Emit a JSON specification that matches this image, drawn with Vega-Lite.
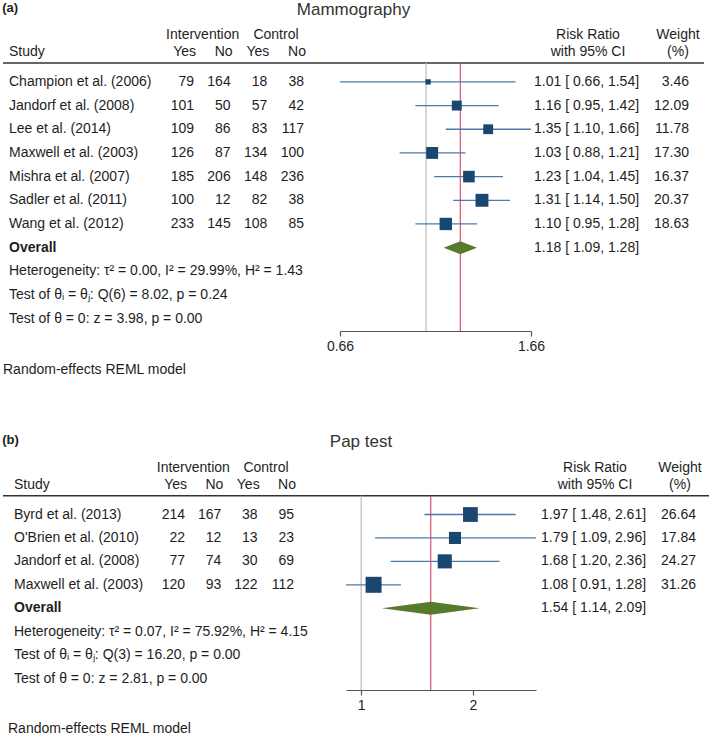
{
  "$schema": "https://vega.github.io/schema/vega-lite/v6.json",
  "padding": {"left": 2, "top": 1, "right": 0, "bottom": 0},
  "background": "white",
  "bounds": "flush",
  "spacing": 432,
  "config": {
    "view": {"stroke": null},
    "font": "Liberation Sans",
    "text": {"font": "Liberation Sans", "fontSize": 14, "color": "#1e1e1e"},
    "axis": {"grid": false, "title": null, "domainColor": "#555", "tickColor": "#555", "tickSize": 5, "domainWidth": 1.2, "tickWidth": 1.2, "labelFontSize": 14, "labelColor": "#1e1e1e", "labelFont": "Liberation Sans", "labelFlush": false, "labelPadding": 3}
  },
  "datasets": {
    "a_studies": [
      {"row": 1, "study": "Champion et al. (2006)", "int_yes": 79, "int_no": 164, "ctl_yes": 18, "ctl_no": 38, "rr": 1.01, "lo": 0.66, "hi": 1.54, "w": 3.46, "ci": "1.01 [ 0.66, 1.54]"},
      {"row": 2, "study": "Jandorf et al. (2008)", "int_yes": 101, "int_no": 50, "ctl_yes": 57, "ctl_no": 42, "rr": 1.16, "lo": 0.95, "hi": 1.42, "w": 12.09, "ci": "1.16 [ 0.95, 1.42]"},
      {"row": 3, "study": "Lee et al. (2014)", "int_yes": 109, "int_no": 86, "ctl_yes": 83, "ctl_no": 117, "rr": 1.35, "lo": 1.10, "hi": 1.66, "w": 11.78, "ci": "1.35 [ 1.10, 1.66]"},
      {"row": 4, "study": "Maxwell et al. (2003)", "int_yes": 126, "int_no": 87, "ctl_yes": 134, "ctl_no": 100, "rr": 1.03, "lo": 0.88, "hi": 1.21, "w": 17.30, "ci": "1.03 [ 0.88, 1.21]"},
      {"row": 5, "study": "Mishra et al. (2007)", "int_yes": 185, "int_no": 206, "ctl_yes": 148, "ctl_no": 236, "rr": 1.23, "lo": 1.04, "hi": 1.45, "w": 16.37, "ci": "1.23 [ 1.04, 1.45]"},
      {"row": 6, "study": "Sadler et al. (2011)", "int_yes": 100, "int_no": 12, "ctl_yes": 82, "ctl_no": 38, "rr": 1.31, "lo": 1.14, "hi": 1.50, "w": 20.37, "ci": "1.31 [ 1.14, 1.50]"},
      {"row": 7, "study": "Wang et al. (2012)", "int_yes": 233, "int_no": 145, "ctl_yes": 108, "ctl_no": 85, "rr": 1.10, "lo": 0.95, "hi": 1.28, "w": 18.63, "ci": "1.10 [ 0.95, 1.28]"}
    ],
    "a_overall": [{"row": 8, "label": "Overall", "rr": 1.18, "lo": 1.09, "hi": 1.28, "ci": "1.18 [ 1.09, 1.28]"}],
    "a_notes": [
      {"row": -0.25, "label": "Study"},
      {"row": 9, "label": "Heterogeneity: τ² = 0.00, I² = 29.99%, H² = 1.43"},
      {"row": 10, "label": "Test of θᵢ = θⱼ: Q(6) = 8.02, p = 0.24"},
      {"row": 11, "label": "Test of θ = 0: z = 3.98, p = 0.00"}
    ],
    "a_foot": [{"row": 13.15, "label": "Random-effects REML model"}],
    "b_studies": [
      {"row": 1, "study": "Byrd et al. (2013)", "int_yes": 214, "int_no": 167, "ctl_yes": 38, "ctl_no": 95, "rr": 1.97, "lo": 1.48, "hi": 2.61, "w": 26.64, "ci": "1.97 [ 1.48, 2.61]"},
      {"row": 2, "study": "O'Brien et al. (2010)", "int_yes": 22, "int_no": 12, "ctl_yes": 13, "ctl_no": 23, "rr": 1.79, "lo": 1.09, "hi": 2.96, "w": 17.84, "ci": "1.79 [ 1.09, 2.96]"},
      {"row": 3, "study": "Jandorf et al. (2008)", "int_yes": 77, "int_no": 74, "ctl_yes": 30, "ctl_no": 69, "rr": 1.68, "lo": 1.20, "hi": 2.36, "w": 24.27, "ci": "1.68 [ 1.20, 2.36]"},
      {"row": 4, "study": "Maxwell et al. (2003)", "int_yes": 120, "int_no": 93, "ctl_yes": 122, "ctl_no": 112, "rr": 1.08, "lo": 0.91, "hi": 1.28, "w": 31.26, "ci": "1.08 [ 0.91, 1.28]"}
    ],
    "b_overall": [{"row": 5, "label": "Overall", "rr": 1.54, "lo": 1.14, "hi": 2.09, "ci": "1.54 [ 1.14, 2.09]"}],
    "b_notes": [
      {"row": -0.25, "label": "Study"},
      {"row": 6, "label": "Heterogeneity: τ² = 0.07, I² = 75.92%, H² = 4.15"},
      {"row": 7, "label": "Test of θᵢ = θⱼ: Q(3) = 16.20, p = 0.00"},
      {"row": 8, "label": "Test of θ = 0: z = 2.81, p = 0.00"}
    ],
    "b_foot": [{"row": 10.17, "label": "Random-effects REML model"}],
    "hdr_groups": [
      {"row": -1, "col": "int_no", "label": "Intervention"},
      {"row": -1, "col": "ctl_no", "label": "Control"}
    ],
    "hdr_yesno": [
      {"row": -0.25, "col": "int_yes", "label": "Yes"},
      {"row": -0.25, "col": "int_no", "label": "No"},
      {"row": -0.25, "col": "ctl_yes", "label": "Yes"},
      {"row": -0.25, "col": "ctl_no", "label": "No"}
    ],
    "hdr_rr": [
      {"row": -1, "col": "ci", "label": "Risk Ratio"},
      {"row": -0.25, "col": "ci", "label": "with 95% CI"}
    ],
    "hdr_w": [
      {"row": -1, "col": "w", "label": "Weight"},
      {"row": -0.25, "col": "w", "label": "(%)"}
    ],
    "null_line": [{"rr": 1}]
  },
  "vconcat": [
    {
      "bounds": "flush",
      "spacing": 0,
      "hconcat": [
        {
          "width": 191, "height": 308,
          "title": {"text": "(a)", "anchor": "start", "dx": 0, "fontSize": 13, "fontWeight": "bold", "color": "#1e1e1e", "font": "Liberation Sans", "offset": -5, "baseline": "bottom"},
          "layer": [
            {"data": {"values": [{}]}, "mark": {"type": "rule", "color": "#333", "strokeWidth": 1.5},
             "encoding": {"y": {"datum": 0.2, "type": "quantitative", "scale": {"domain": [-1.487, 11.52], "reverse": true, "nice": false, "zero": false}, "axis": null}}},
            {"data": {"name": "a_studies"}, "mark": {"type": "text", "align": "left", "dx": 6},
             "encoding": {"x": {"datum": "s", "type": "nominal", "scale": {"type": "point", "domain": ["s"], "padding": 0, "align": 0}, "axis": null},
                          "y": {"field": "row", "type": "quantitative", "scale": {"domain": [-1.487, 11.52], "reverse": true, "nice": false, "zero": false}, "axis": null},
                          "text": {"field": "study"}}},
            {"data": {"name": "a_notes"}, "mark": {"type": "text", "align": "left", "dx": 6},
             "encoding": {"x": {"datum": "s", "type": "nominal", "scale": {"type": "point", "domain": ["s"], "padding": 0, "align": 0}, "axis": null},
                          "y": {"field": "row", "type": "quantitative", "scale": {"domain": [-1.487, 11.52], "reverse": true, "nice": false, "zero": false}, "axis": null},
                          "text": {"field": "label"}}},
            {"data": {"name": "a_overall"}, "mark": {"type": "text", "align": "left", "dx": 6, "fontWeight": "bold"},
             "encoding": {"x": {"datum": "s", "type": "nominal", "scale": {"type": "point", "domain": ["s"], "padding": 0, "align": 0}, "axis": null},
                          "y": {"field": "row", "type": "quantitative", "scale": {"domain": [-1.487, 11.52], "reverse": true, "nice": false, "zero": false}, "axis": null},
                          "text": {"field": "label"}}},
            {"data": {"name": "a_foot"}, "mark": {"type": "text", "align": "left", "dx": 0},
             "encoding": {"x": {"datum": "s", "type": "nominal", "scale": {"type": "point", "domain": ["s"], "padding": 0, "align": 0}, "axis": null},
                          "y": {"field": "row", "type": "quantitative", "scale": {"domain": [-1.487, 11.52], "reverse": true, "nice": false, "zero": false}, "axis": null},
                          "text": {"field": "label"}}}
          ]
        },
        {
          "width": 146, "height": 308,
          "layer": [
            {"data": {"values": [{}]}, "mark": {"type": "rule", "color": "#333", "strokeWidth": 1.5},
             "encoding": {"y": {"datum": 0.2, "type": "quantitative", "scale": {"domain": [-1.487, 11.52], "reverse": true, "nice": false, "zero": false}, "axis": null}}},
            {"data": {"name": "a_studies"}, "transform": [{"fold": ["int_yes", "int_no", "ctl_yes", "ctl_no"], "as": ["col", "n"]}],
             "mark": {"type": "text", "align": "right"},
             "encoding": {"x": {"field": "col", "type": "nominal", "scale": {"type": "point", "domain": ["int_yes", "int_no", "ctl_yes", "ctl_no"], "padding": 0.491, "align": 0}, "axis": null},
                          "y": {"field": "row", "type": "quantitative", "scale": {"domain": [-1.487, 11.52], "reverse": true, "nice": false, "zero": false}, "axis": null},
                          "text": {"field": "n", "type": "nominal"}}},
            {"data": {"name": "hdr_yesno"}, "mark": {"type": "text", "align": "right", "dx": 2},
             "encoding": {"x": {"field": "col", "type": "nominal", "scale": {"type": "point", "domain": ["int_yes", "int_no", "ctl_yes", "ctl_no"], "padding": 0.491, "align": 0}, "axis": null},
                          "y": {"field": "row", "type": "quantitative", "scale": {"domain": [-1.487, 11.52], "reverse": true, "nice": false, "zero": false}, "axis": null},
                          "text": {"field": "label"}}},
            {"data": {"name": "hdr_groups"}, "mark": {"type": "text", "align": "center", "dx": -28},
             "encoding": {"x": {"field": "col", "type": "nominal", "scale": {"type": "point", "domain": ["int_yes", "int_no", "ctl_yes", "ctl_no"], "padding": 0.491, "align": 0}, "axis": null},
                          "y": {"field": "row", "type": "quantitative", "scale": {"domain": [-1.487, 11.52], "reverse": true, "nice": false, "zero": false}, "axis": null},
                          "text": {"field": "label"}}}
          ]
        },
        {
          "width": 191, "height": 308,
          "title": {"text": "Mammography", "anchor": "middle", "dx": -82, "fontSize": 17, "fontWeight": "normal", "color": "#333", "font": "Liberation Sans", "offset": -13, "baseline": "bottom"},
          "layer": [
            {"data": {"values": [{}]}, "mark": {"type": "rule", "color": "#333", "strokeWidth": 1.5},
             "encoding": {"y": {"datum": 0.2, "type": "quantitative", "scale": {"domain": [-1.487, 11.52], "reverse": true, "nice": false, "zero": false}, "axis": null}}},
            {"data": {"name": "null_line"}, "mark": {"type": "rule", "color": "#bcbcbc", "strokeWidth": 1.2},
             "encoding": {"x": {"field": "rr", "type": "quantitative", "title": null, "scale": {"type": "log", "domain": [0.66, 1.66], "nice": false, "zero": false}, "axis": {"values": [0.66, 1.66], "format": ".2f"}},
                          "y": {"datum": 0.2, "type": "quantitative", "scale": {"domain": [-1.487, 11.52], "reverse": true, "nice": false, "zero": false}, "axis": null},
                          "y2": {"value": "height"}}},
            {"data": {"name": "a_overall"}, "mark": {"type": "rule", "color": "#e34b6f", "strokeWidth": 1.2},
             "encoding": {"x": {"field": "rr", "type": "quantitative", "title": null, "scale": {"type": "log", "domain": [0.66, 1.66], "nice": false, "zero": false}, "axis": {"values": [0.66, 1.66], "format": ".2f"}},
                          "y": {"datum": 0.2, "type": "quantitative", "scale": {"domain": [-1.487, 11.52], "reverse": true, "nice": false, "zero": false}, "axis": null},
                          "y2": {"value": "height"}}},
            {"data": {"name": "a_studies"}, "mark": {"type": "rule", "color": "#4d7aab", "strokeWidth": 1.3},
             "encoding": {"x": {"field": "lo", "type": "quantitative", "title": null, "scale": {"type": "log", "domain": [0.66, 1.66], "nice": false, "zero": false}, "axis": {"values": [0.66, 1.66], "format": ".2f"}},
                          "x2": {"field": "hi"},
                          "y": {"field": "row", "type": "quantitative", "scale": {"domain": [-1.487, 11.52], "reverse": true, "nice": false, "zero": false}, "axis": null}}},
            {"data": {"name": "a_studies"}, "mark": {"type": "point", "shape": "square", "filled": true, "color": "#1a476f", "opacity": 1},
             "encoding": {"x": {"field": "rr", "type": "quantitative", "title": null, "scale": {"type": "log", "domain": [0.66, 1.66], "nice": false, "zero": false}, "axis": {"values": [0.66, 1.66], "format": ".2f"}},
                          "y": {"field": "row", "type": "quantitative", "scale": {"domain": [-1.487, 11.52], "reverse": true, "nice": false, "zero": false}, "axis": null},
                          "size": {"field": "w", "type": "quantitative", "scale": {"zero": true, "range": [0, 256]}, "legend": null}}},
            {"data": {"name": "a_overall"}, "mark": {"type": "point", "shape": "M-1,0L0,-0.39L1,0L0,0.39Z", "filled": true, "size": 1109, "color": "#587a2c", "opacity": 1},
             "encoding": {"x": {"field": "rr", "type": "quantitative", "title": null, "scale": {"type": "log", "domain": [0.66, 1.66], "nice": false, "zero": false}, "axis": {"values": [0.66, 1.66], "format": ".2f"}},
                          "y": {"field": "row", "type": "quantitative", "scale": {"domain": [-1.487, 11.52], "reverse": true, "nice": false, "zero": false}, "axis": null}}}
          ]
        },
        {
          "width": 173, "height": 308,
          "layer": [
            {"data": {"values": [{}]}, "mark": {"type": "rule", "color": "#333", "strokeWidth": 1.5},
             "encoding": {"y": {"datum": 0.2, "type": "quantitative", "scale": {"domain": [-1.487, 11.52], "reverse": true, "nice": false, "zero": false}, "axis": null}}},
            {"data": {"name": "a_studies"}, "mark": {"type": "text", "align": "left", "dx": 3},
             "encoding": {"x": {"datum": "ci", "type": "nominal", "scale": {"type": "point", "domain": ["ci", "w"], "padding": 0.0475, "align": 0}, "axis": null},
                          "y": {"field": "row", "type": "quantitative", "scale": {"domain": [-1.487, 11.52], "reverse": true, "nice": false, "zero": false}, "axis": null},
                          "text": {"field": "ci"}}},
            {"data": {"name": "a_overall"}, "mark": {"type": "text", "align": "left", "dx": 3},
             "encoding": {"x": {"datum": "ci", "type": "nominal", "scale": {"type": "point", "domain": ["ci", "w"], "padding": 0.0475, "align": 0}, "axis": null},
                          "y": {"field": "row", "type": "quantitative", "scale": {"domain": [-1.487, 11.52], "reverse": true, "nice": false, "zero": false}, "axis": null},
                          "text": {"field": "ci"}}},
            {"data": {"name": "a_studies"}, "mark": {"type": "text", "align": "right"},
             "encoding": {"x": {"datum": "w", "type": "nominal", "scale": {"type": "point", "domain": ["ci", "w"], "padding": 0.0475, "align": 0}, "axis": null},
                          "y": {"field": "row", "type": "quantitative", "scale": {"domain": [-1.487, 11.52], "reverse": true, "nice": false, "zero": false}, "axis": null},
                          "text": {"field": "w", "type": "quantitative", "format": ".2f"}}},
            {"data": {"name": "hdr_rr"}, "mark": {"type": "text", "align": "center", "dx": 57},
             "encoding": {"x": {"field": "col", "type": "nominal", "scale": {"type": "point", "domain": ["ci", "w"], "padding": 0.0475, "align": 0}, "axis": null},
                          "y": {"field": "row", "type": "quantitative", "scale": {"domain": [-1.487, 11.52], "reverse": true, "nice": false, "zero": false}, "axis": null},
                          "text": {"field": "label"}}},
            {"data": {"name": "hdr_w"}, "mark": {"type": "text", "align": "center", "dx": -11},
             "encoding": {"x": {"field": "col", "type": "nominal", "scale": {"type": "point", "domain": ["ci", "w"], "padding": 0.0475, "align": 0}, "axis": null},
                          "y": {"field": "row", "type": "quantitative", "scale": {"domain": [-1.487, 11.52], "reverse": true, "nice": false, "zero": false}, "axis": null},
                          "text": {"field": "label"}}}
          ]
        }
      ]
    },
    {
      "bounds": "flush",
      "spacing": 0,
      "hconcat": [
        {
          "width": 182, "height": 235,
          "title": {"text": "(b)", "anchor": "start", "dx": 0, "fontSize": 13, "fontWeight": "bold", "color": "#1e1e1e", "font": "Liberation Sans", "offset": -5, "baseline": "bottom"},
          "layer": [
            {"data": {"values": [{}]}, "mark": {"type": "rule", "color": "#333", "strokeWidth": 1.5},
             "encoding": {"y": {"datum": 0.2, "type": "quantitative", "scale": {"domain": [-1.54, 8.49], "reverse": true, "nice": false, "zero": false}, "axis": null}}},
            {"data": {"name": "b_studies"}, "mark": {"type": "text", "align": "left", "dx": 11},
             "encoding": {"x": {"datum": "s", "type": "nominal", "scale": {"type": "point", "domain": ["s"], "padding": 0, "align": 0}, "axis": null},
                          "y": {"field": "row", "type": "quantitative", "scale": {"domain": [-1.54, 8.49], "reverse": true, "nice": false, "zero": false}, "axis": null},
                          "text": {"field": "study"}}},
            {"data": {"name": "b_notes"}, "mark": {"type": "text", "align": "left", "dx": 11},
             "encoding": {"x": {"datum": "s", "type": "nominal", "scale": {"type": "point", "domain": ["s"], "padding": 0, "align": 0}, "axis": null},
                          "y": {"field": "row", "type": "quantitative", "scale": {"domain": [-1.54, 8.49], "reverse": true, "nice": false, "zero": false}, "axis": null},
                          "text": {"field": "label"}}},
            {"data": {"name": "b_overall"}, "mark": {"type": "text", "align": "left", "dx": 11, "fontWeight": "bold"},
             "encoding": {"x": {"datum": "s", "type": "nominal", "scale": {"type": "point", "domain": ["s"], "padding": 0, "align": 0}, "axis": null},
                          "y": {"field": "row", "type": "quantitative", "scale": {"domain": [-1.54, 8.49], "reverse": true, "nice": false, "zero": false}, "axis": null},
                          "text": {"field": "label"}}},
            {"data": {"name": "b_foot"}, "mark": {"type": "text", "align": "left", "dx": 5},
             "encoding": {"x": {"datum": "s", "type": "nominal", "scale": {"type": "point", "domain": ["s"], "padding": 0, "align": 0}, "axis": null},
                          "y": {"field": "row", "type": "quantitative", "scale": {"domain": [-1.54, 8.49], "reverse": true, "nice": false, "zero": false}, "axis": null},
                          "text": {"field": "label"}}}
          ]
        },
        {
          "width": 161, "height": 235,
          "layer": [
            {"data": {"values": [{}]}, "mark": {"type": "rule", "color": "#333", "strokeWidth": 1.5},
             "encoding": {"y": {"datum": 0.2, "type": "quantitative", "scale": {"domain": [-1.54, 8.49], "reverse": true, "nice": false, "zero": false}, "axis": null}}},
            {"data": {"name": "b_studies"}, "transform": [{"fold": ["int_yes", "int_no", "ctl_yes", "ctl_no"], "as": ["col", "n"]}],
             "mark": {"type": "text", "align": "right"},
             "encoding": {"x": {"field": "col", "type": "nominal", "scale": {"type": "point", "domain": ["int_yes", "int_no", "ctl_yes", "ctl_no"], "padding": 0.716, "align": 0}, "axis": null},
                          "y": {"field": "row", "type": "quantitative", "scale": {"domain": [-1.54, 8.49], "reverse": true, "nice": false, "zero": false}, "axis": null},
                          "text": {"field": "n", "type": "nominal"}}},
            {"data": {"name": "hdr_yesno"}, "mark": {"type": "text", "align": "right", "dx": 2},
             "encoding": {"x": {"field": "col", "type": "nominal", "scale": {"type": "point", "domain": ["int_yes", "int_no", "ctl_yes", "ctl_no"], "padding": 0.716, "align": 0}, "axis": null},
                          "y": {"field": "row", "type": "quantitative", "scale": {"domain": [-1.54, 8.49], "reverse": true, "nice": false, "zero": false}, "axis": null},
                          "text": {"field": "label"}}},
            {"data": {"name": "hdr_groups"}, "mark": {"type": "text", "align": "center", "dx": -28},
             "encoding": {"x": {"field": "col", "type": "nominal", "scale": {"type": "point", "domain": ["int_yes", "int_no", "ctl_yes", "ctl_no"], "padding": 0.716, "align": 0}, "axis": null},
                          "y": {"field": "row", "type": "quantitative", "scale": {"domain": [-1.54, 8.49], "reverse": true, "nice": false, "zero": false}, "axis": null},
                          "text": {"field": "label"}}}
          ]
        },
        {
          "width": 190, "height": 235,
          "title": {"text": "Pap test", "anchor": "middle", "dx": -80, "fontSize": 17, "fontWeight": "normal", "color": "#333", "font": "Liberation Sans", "offset": -13, "baseline": "bottom"},
          "layer": [
            {"data": {"values": [{}]}, "mark": {"type": "rule", "color": "#333", "strokeWidth": 1.5},
             "encoding": {"y": {"datum": 0.2, "type": "quantitative", "scale": {"domain": [-1.54, 8.49], "reverse": true, "nice": false, "zero": false}, "axis": null}}},
            {"data": {"name": "null_line"}, "mark": {"type": "rule", "color": "#bcbcbc", "strokeWidth": 1.2},
             "encoding": {"x": {"field": "rr", "type": "quantitative", "title": null, "scale": {"type": "log", "domain": [0.91, 2.96], "nice": false, "zero": false}, "axis": {"values": [1, 2], "format": "d"}},
                          "y": {"datum": 0.2, "type": "quantitative", "scale": {"domain": [-1.54, 8.49], "reverse": true, "nice": false, "zero": false}, "axis": null},
                          "y2": {"value": "height"}}},
            {"data": {"name": "b_overall"}, "mark": {"type": "rule", "color": "#e34b6f", "strokeWidth": 1.2},
             "encoding": {"x": {"field": "rr", "type": "quantitative", "title": null, "scale": {"type": "log", "domain": [0.91, 2.96], "nice": false, "zero": false}, "axis": {"values": [1, 2], "format": "d"}},
                          "y": {"datum": 0.2, "type": "quantitative", "scale": {"domain": [-1.54, 8.49], "reverse": true, "nice": false, "zero": false}, "axis": null},
                          "y2": {"value": "height"}}},
            {"data": {"name": "b_studies"}, "mark": {"type": "rule", "color": "#4d7aab", "strokeWidth": 1.3},
             "encoding": {"x": {"field": "lo", "type": "quantitative", "title": null, "scale": {"type": "log", "domain": [0.91, 2.96], "nice": false, "zero": false}, "axis": {"values": [1, 2], "format": "d"}},
                          "x2": {"field": "hi"},
                          "y": {"field": "row", "type": "quantitative", "scale": {"domain": [-1.54, 8.49], "reverse": true, "nice": false, "zero": false}, "axis": null}}},
            {"data": {"name": "b_studies"}, "mark": {"type": "point", "shape": "square", "filled": true, "color": "#1a476f", "opacity": 1},
             "encoding": {"x": {"field": "rr", "type": "quantitative", "title": null, "scale": {"type": "log", "domain": [0.91, 2.96], "nice": false, "zero": false}, "axis": {"values": [1, 2], "format": "d"}},
                          "y": {"field": "row", "type": "quantitative", "scale": {"domain": [-1.54, 8.49], "reverse": true, "nice": false, "zero": false}, "axis": null},
                          "size": {"field": "w", "type": "quantitative", "scale": {"zero": true, "range": [0, 256]}, "legend": null}}},
            {"data": {"name": "b_overall"}, "mark": {"type": "point", "shape": "M-1,0L0,-0.133L1,0L0,0.133Z", "filled": true, "size": 9526, "color": "#587a2c", "opacity": 1},
             "encoding": {"x": {"field": "rr", "type": "quantitative", "title": null, "scale": {"type": "log", "domain": [0.91, 2.96], "nice": false, "zero": false}, "axis": {"values": [1, 2], "format": "d"}},
                          "y": {"field": "row", "type": "quantitative", "scale": {"domain": [-1.54, 8.49], "reverse": true, "nice": false, "zero": false}, "axis": null}}}
          ]
        },
        {
          "width": 173, "height": 235,
          "layer": [
            {"data": {"values": [{}]}, "mark": {"type": "rule", "color": "#333", "strokeWidth": 1.5},
             "encoding": {"y": {"datum": 0.2, "type": "quantitative", "scale": {"domain": [-1.54, 8.49], "reverse": true, "nice": false, "zero": false}, "axis": null}}},
            {"data": {"name": "b_studies"}, "mark": {"type": "text", "align": "left", "dx": 5},
             "encoding": {"x": {"datum": "ci", "type": "nominal", "scale": {"type": "point", "domain": ["ci", "w"], "padding": 0.0406, "align": 0}, "axis": null},
                          "y": {"field": "row", "type": "quantitative", "scale": {"domain": [-1.54, 8.49], "reverse": true, "nice": false, "zero": false}, "axis": null},
                          "text": {"field": "ci"}}},
            {"data": {"name": "b_overall"}, "mark": {"type": "text", "align": "left", "dx": 5},
             "encoding": {"x": {"datum": "ci", "type": "nominal", "scale": {"type": "point", "domain": ["ci", "w"], "padding": 0.0406, "align": 0}, "axis": null},
                          "y": {"field": "row", "type": "quantitative", "scale": {"domain": [-1.54, 8.49], "reverse": true, "nice": false, "zero": false}, "axis": null},
                          "text": {"field": "ci"}}},
            {"data": {"name": "b_studies"}, "mark": {"type": "text", "align": "right"},
             "encoding": {"x": {"datum": "w", "type": "nominal", "scale": {"type": "point", "domain": ["ci", "w"], "padding": 0.0406, "align": 0}, "axis": null},
                          "y": {"field": "row", "type": "quantitative", "scale": {"domain": [-1.54, 8.49], "reverse": true, "nice": false, "zero": false}, "axis": null},
                          "text": {"field": "w", "type": "quantitative", "format": ".2f"}}},
            {"data": {"name": "hdr_rr"}, "mark": {"type": "text", "align": "center", "dx": 59},
             "encoding": {"x": {"field": "col", "type": "nominal", "scale": {"type": "point", "domain": ["ci", "w"], "padding": 0.0406, "align": 0}, "axis": null},
                          "y": {"field": "row", "type": "quantitative", "scale": {"domain": [-1.54, 8.49], "reverse": true, "nice": false, "zero": false}, "axis": null},
                          "text": {"field": "label"}}},
            {"data": {"name": "hdr_w"}, "mark": {"type": "text", "align": "center", "dx": -16},
             "encoding": {"x": {"field": "col", "type": "nominal", "scale": {"type": "point", "domain": ["ci", "w"], "padding": 0.0406, "align": 0}, "axis": null},
                          "y": {"field": "row", "type": "quantitative", "scale": {"domain": [-1.54, 8.49], "reverse": true, "nice": false, "zero": false}, "axis": null},
                          "text": {"field": "label"}}}
          ]
        }
      ]
    }
  ]
}
